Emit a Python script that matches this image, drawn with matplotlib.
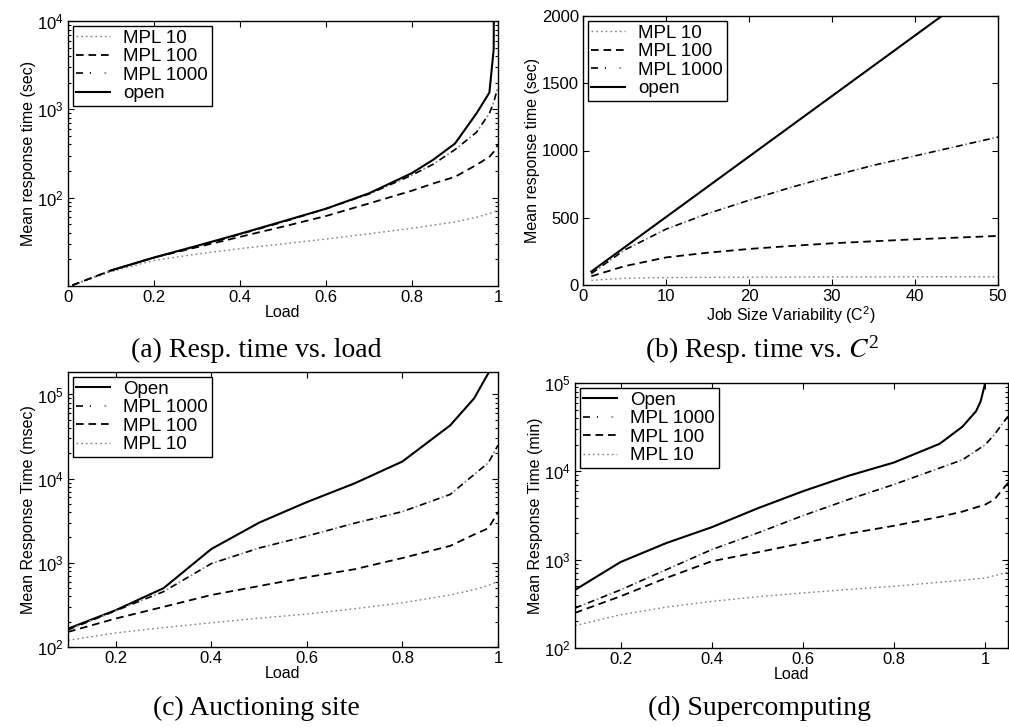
import matplotlib
matplotlib.use("Agg")
import matplotlib.pyplot as plt
from matplotlib.ticker import FixedLocator, LogLocator, NullFormatter
from matplotlib.legend_handler import HandlerTuple

plt.rcParams['font.family'] = ['Liberation Sans', 'DejaVu Sans']
plt.rcParams['mathtext.default'] = 'regular'
plt.rcParams['lines.scale_dashes'] = False

# (a) response time vs. load, exponential jobs
load_a_closed = [0.01, 0.1, 0.2, 0.3, 0.4, 0.5, 0.6, 0.7, 0.8, 0.85, 0.9, 0.95, 0.98, 0.99, 1.0]
a_mpl10 = [10.2, 14.5, 19.5, 23, 26.5, 30, 34, 39, 45, 49, 53, 60, 66, 69, 72]
a_mpl100 = [10.2, 15, 21, 27.5, 36, 47, 62, 86, 120, 145, 172, 235, 290, 330, 400]
a_mpl1000 = [10.2, 15, 21, 28, 38.5, 53, 75, 110, 180, 240, 350, 550, 900, 1200, 1800]
load_a_open = [0.1, 0.2, 0.3, 0.4, 0.5, 0.6, 0.7, 0.8, 0.85, 0.9, 0.95, 0.98, 0.99, 0.991]
a_open = [15, 21, 28.5, 39, 54, 75, 112, 190, 270, 410, 900, 1550, 4800, 100000]

# (b) response time vs. job size variability
c2 = [1, 5, 10, 15, 20, 25, 30, 35, 40, 45, 50]
b_open = [100, 280, 505, 730, 955, 1180, 1405, 1630, 1855, 2080, 2305]
b_mpl1000 = [85, 260, 415, 530, 630, 725, 810, 890, 960, 1030, 1100]
b_mpl100 = [65, 140, 205, 240, 268, 290, 310, 325, 340, 352, 365]
b_mpl10 = [35, 50, 55, 57, 58, 59, 60, 60, 61, 61, 61]

# (c) auctioning site
load_c = [0.1, 0.2, 0.3, 0.4, 0.5, 0.6, 0.7, 0.8, 0.9, 0.95, 0.98, 1.0]
c_open = [165, 274, 500, 1460, 3000, 5270, 8800, 16000, 43000, 90000, 180000]
c_mpl1000 = [160, 270, 455, 980, 1500, 2080, 2960, 4060, 6500, 11200, 15500, 25000]
c_mpl100 = [151, 218, 300, 415, 530, 675, 840, 1140, 1590, 2170, 2580, 4000]
c_mpl10 = [120, 147, 170, 194, 220, 246, 285, 335, 415, 480, 540, 600]

# (d) supercomputing
load_d_open = [0.1, 0.2, 0.3, 0.4, 0.5, 0.6, 0.7, 0.8, 0.9, 0.95, 0.98, 0.99, 1.0]
d_open = [455, 940, 1540, 2330, 3800, 5950, 8900, 12600, 20500, 32000, 48000, 62000, 100000]
load_d_closed = [0.1, 0.2, 0.3, 0.4, 0.5, 0.6, 0.7, 0.8, 0.9, 0.95, 1.0, 1.02, 1.05]
d_mpl1000 = [283, 455, 770, 1300, 2000, 3150, 4800, 7100, 10900, 13500, 20000, 26000, 42000]
d_mpl100 = [250, 385, 620, 960, 1210, 1540, 1970, 2420, 3050, 3500, 4200, 4800, 7400]
d_mpl10 = [179, 238, 290, 337, 380, 420, 460, 500, 555, 585, 620, 660, 720]

captions = ["(a) Resp. time vs. load", r"(b) Resp. time vs. $\mathit{C}^{2}$",
            "(c) Auctioning site", "(d) Supercomputing"]

STY_MPL10 = dict(color='0.5', lw=1.0, ls=(0, (1.2, 2.2)))
STY_MPL100 = dict(color='black', lw=1.3, ls=(0, (5.5, 3.5)))
STY_OPEN = dict(color='black', lw=1.5, ls='-')
# dash-dot drawn as black dashes with light-grey dots in the gaps
STY_DD_DASH = dict(color='black', lw=1.2, ls=(0, (5, 5)))
STY_DD_DOT = dict(color='0.55', lw=1.2, ls=(3.3, (1.4, 8.6)))

TICK_SIZE = 12
LABEL_SIZE = 11.5
LEGEND_SIZE = 13.5

fig = plt.figure(figsize=(10.09, 7.27), dpi=100)
W, H = 1009, 727


def make_axes(l, t, r, b):
    return fig.add_axes([l / W, 1 - b / H, (r - l) / W, (b - t) / H])


def style(ax):
    ax.tick_params(which='both', direction='in', top=True, right=True,
                   labelsize=TICK_SIZE, width=0.8, pad=3)
    ax.tick_params(which='major', length=4)
    ax.tick_params(which='minor', length=2.2)
    for s in ax.spines.values():
        s.set_linewidth(1.0)


def plot_dashdot(ax, x, y):
    d1, = ax.plot(x, y, **STY_DD_DASH)
    d2, = ax.plot(x, y, **STY_DD_DOT)
    return (d1, d2)


def legend(ax, handles, labels):
    leg = ax.legend(handles, labels, loc='upper left', fontsize=LEGEND_SIZE,
                    fancybox=False, edgecolor='black', framealpha=1,
                    borderaxespad=0.25, labelspacing=0.08, handlelength=1.8,
                    borderpad=0.2, handletextpad=0.7,
                    handler_map={tuple: HandlerTuple(ndivide=None)})
    leg.get_frame().set_linewidth(1.0)


# panel (a)
ax = make_axes(68, 21, 498, 286)
h10, = ax.plot(load_a_closed, a_mpl10, **STY_MPL10)
h100, = ax.plot(load_a_closed, a_mpl100, **STY_MPL100)
h1000 = plot_dashdot(ax, load_a_closed, a_mpl1000)
hop, = ax.plot(load_a_open, a_open, **STY_OPEN)
ax.set_yscale('log')
ax.set_xlim(0, 1)
ax.set_ylim(10, 1e4)
ax.yaxis.set_major_locator(FixedLocator([1e2, 1e3, 1e4]))
ax.yaxis.set_minor_locator(LogLocator(base=10, subs=range(2, 10)))
ax.yaxis.set_minor_formatter(NullFormatter())
ax.set_xticks([0, 0.2, 0.4, 0.6, 0.8, 1.0])
ax.set_xticklabels(['0', '0.2', '0.4', '0.6', '0.8', '1'])
ax.set_xlabel('Load', fontsize=LABEL_SIZE, labelpad=0)
ax.set_ylabel('Mean response time (sec)', fontsize=LABEL_SIZE, labelpad=1)
style(ax)
legend(ax, [h10, h100, h1000, hop], ['MPL 10', 'MPL 100', 'MPL 1000', 'open'])

# panel (b)
ax = make_axes(583, 16, 998, 285)
h10, = ax.plot(c2, b_mpl10, **STY_MPL10)
h100, = ax.plot(c2, b_mpl100, **STY_MPL100)
h1000 = plot_dashdot(ax, c2, b_mpl1000)
hop, = ax.plot(c2, b_open, **STY_OPEN)
ax.set_xlim(0, 50)
ax.set_ylim(0, 2000)
ax.set_xticks([0, 10, 20, 30, 40, 50])
ax.set_yticks([0, 500, 1000, 1500, 2000])
ax.set_xlabel(r'Job Size Variability (C$^{2}$)', fontsize=LABEL_SIZE, labelpad=0)
ax.set_ylabel('Mean response time (sec)', fontsize=LABEL_SIZE, labelpad=1)
style(ax)
legend(ax, [h10, h100, h1000, hop], ['MPL 10', 'MPL 100', 'MPL 1000', 'open'])

# panel (c)
ax = make_axes(68, 372, 498, 647)
hop, = ax.plot(load_c[:len(c_open)], c_open, **STY_OPEN)
h1000 = plot_dashdot(ax, load_c, c_mpl1000)
h100, = ax.plot(load_c, c_mpl100, **STY_MPL100)
h10, = ax.plot(load_c, c_mpl10, **STY_MPL10)
ax.set_yscale('log')
ax.set_xlim(0.1, 1.0)
ax.set_ylim(100, 1.85e5)
ax.yaxis.set_minor_formatter(NullFormatter())
ax.set_xticks([0.2, 0.4, 0.6, 0.8, 1.0])
ax.set_xticklabels(['0.2', '0.4', '0.6', '0.8', '1'])
ax.set_xlabel('Load', fontsize=LABEL_SIZE, labelpad=0)
ax.set_ylabel('Mean Response Time (msec)', fontsize=LABEL_SIZE, labelpad=1)
style(ax)
legend(ax, [hop, h1000, h100, h10], ['Open', 'MPL 1000', 'MPL 100', 'MPL 10'])

# panel (d)
ax = make_axes(575, 383, 1008, 648)
hop, = ax.plot(load_d_open, d_open, **STY_OPEN)
h1000 = plot_dashdot(ax, load_d_closed, d_mpl1000)
h100, = ax.plot(load_d_closed, d_mpl100, **STY_MPL100)
h10, = ax.plot(load_d_closed, d_mpl10, **STY_MPL10)
ax.set_yscale('log')
ax.set_xlim(0.1, 1.05)
ax.set_ylim(100, 1e5)
ax.yaxis.set_minor_formatter(NullFormatter())
ax.set_xticks([0.2, 0.4, 0.6, 0.8, 1.0])
ax.set_xticklabels(['0.2', '0.4', '0.6', '0.8', '1'])
ax.set_xlabel('Load', fontsize=LABEL_SIZE, labelpad=0)
ax.set_ylabel('Mean Response Time (min)', fontsize=LABEL_SIZE, labelpad=1)
style(ax)
legend(ax, [hop, h1000, h100, h10], ['Open', 'MPL 1000', 'MPL 100', 'MPL 10'])

# sub-figure captions
cap_pos = [(256, 350), (762, 350), (256, 708), (760, 708)]
for text, (cx, cy) in zip(captions, cap_pos):
    fig.text(cx / W, 1 - cy / H, text, ha='center', va='center', fontsize=20,
             family=['Liberation Serif', 'DejaVu Serif'], math_fontfamily='stix')

fig.savefig('out.png', dpi=100)
